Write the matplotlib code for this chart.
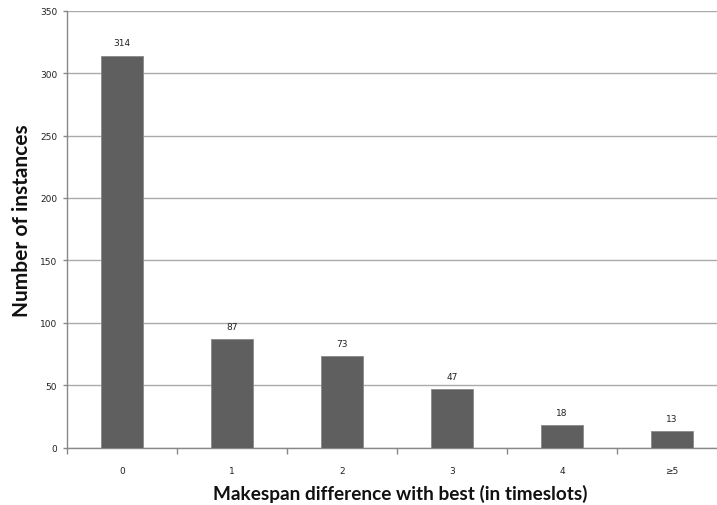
import matplotlib
matplotlib.use("Agg")
import matplotlib.pyplot as plt
import numpy as np

categories = ["0", "1", "2", "3", "4", "≥5"]
values = [314, 87, 73, 47, 18, 13]

fig = plt.figure(figsize=(7.17, 5.06), dpi=100)
W, H = 717, 506
left, right = 67, 727
top, bottom = 11.7, 448.5
ax = fig.add_axes([left / W, 1 - bottom / H, (right - left) / W, (bottom - top) / H])

x = np.arange(len(categories))
bars = ax.bar(x, values, width=0.39, color="#5f5f5f", edgecolor="#8a8a8a", linewidth=0.6, zorder=3)
for xi, v in zip(x, values):
    ax.annotate(str(v), (xi, v), xytext=(0, 6), textcoords="offset points",
                ha="center", va="bottom", fontsize=6.5, color="#222222")

ax.set_xlim(-0.5, len(categories) - 0.5)
ax.set_ylim(0, 350)
ax.set_yticks(np.arange(0, 351, 50))
ax.yaxis.grid(True, color="#aaaaaa", linewidth=1.0, zorder=0)
ax.set_axisbelow(True)

ax.set_xticks(x)
ax.set_xticklabels(categories, fontsize=6.5, color="#222222")
ax.set_xticks(np.arange(-0.5, len(categories), 1), minor=True)
ax.tick_params(axis="x", which="major", length=0, pad=13)
ax.tick_params(axis="x", which="minor", length=4, color="#888888", width=1)
ax.tick_params(axis="y", length=3, color="#888888", width=1, labelsize=6.5, labelcolor="#222222", pad=4)

for s in ["top", "right"]:
    ax.spines[s].set_visible(False)
for s in ["left", "bottom"]:
    ax.spines[s].set_color("#888888")
    ax.spines[s].set_linewidth(1)

fig.text(400 / W, 1 - 494 / H, "Makespan difference with best (in timeslots)",
         ha="center", va="center", fontsize=13.7, fontweight="bold", color="#111111",
         family=["Lato", "DejaVu Sans"])
fig.text(22 / W, 1 - 221 / H, "Number of instances", rotation=90,
         ha="center", va="center", fontsize=15, fontweight="bold", color="#111111",
         family=["Lato", "DejaVu Sans"])

fig.savefig("out.png", dpi=100)
